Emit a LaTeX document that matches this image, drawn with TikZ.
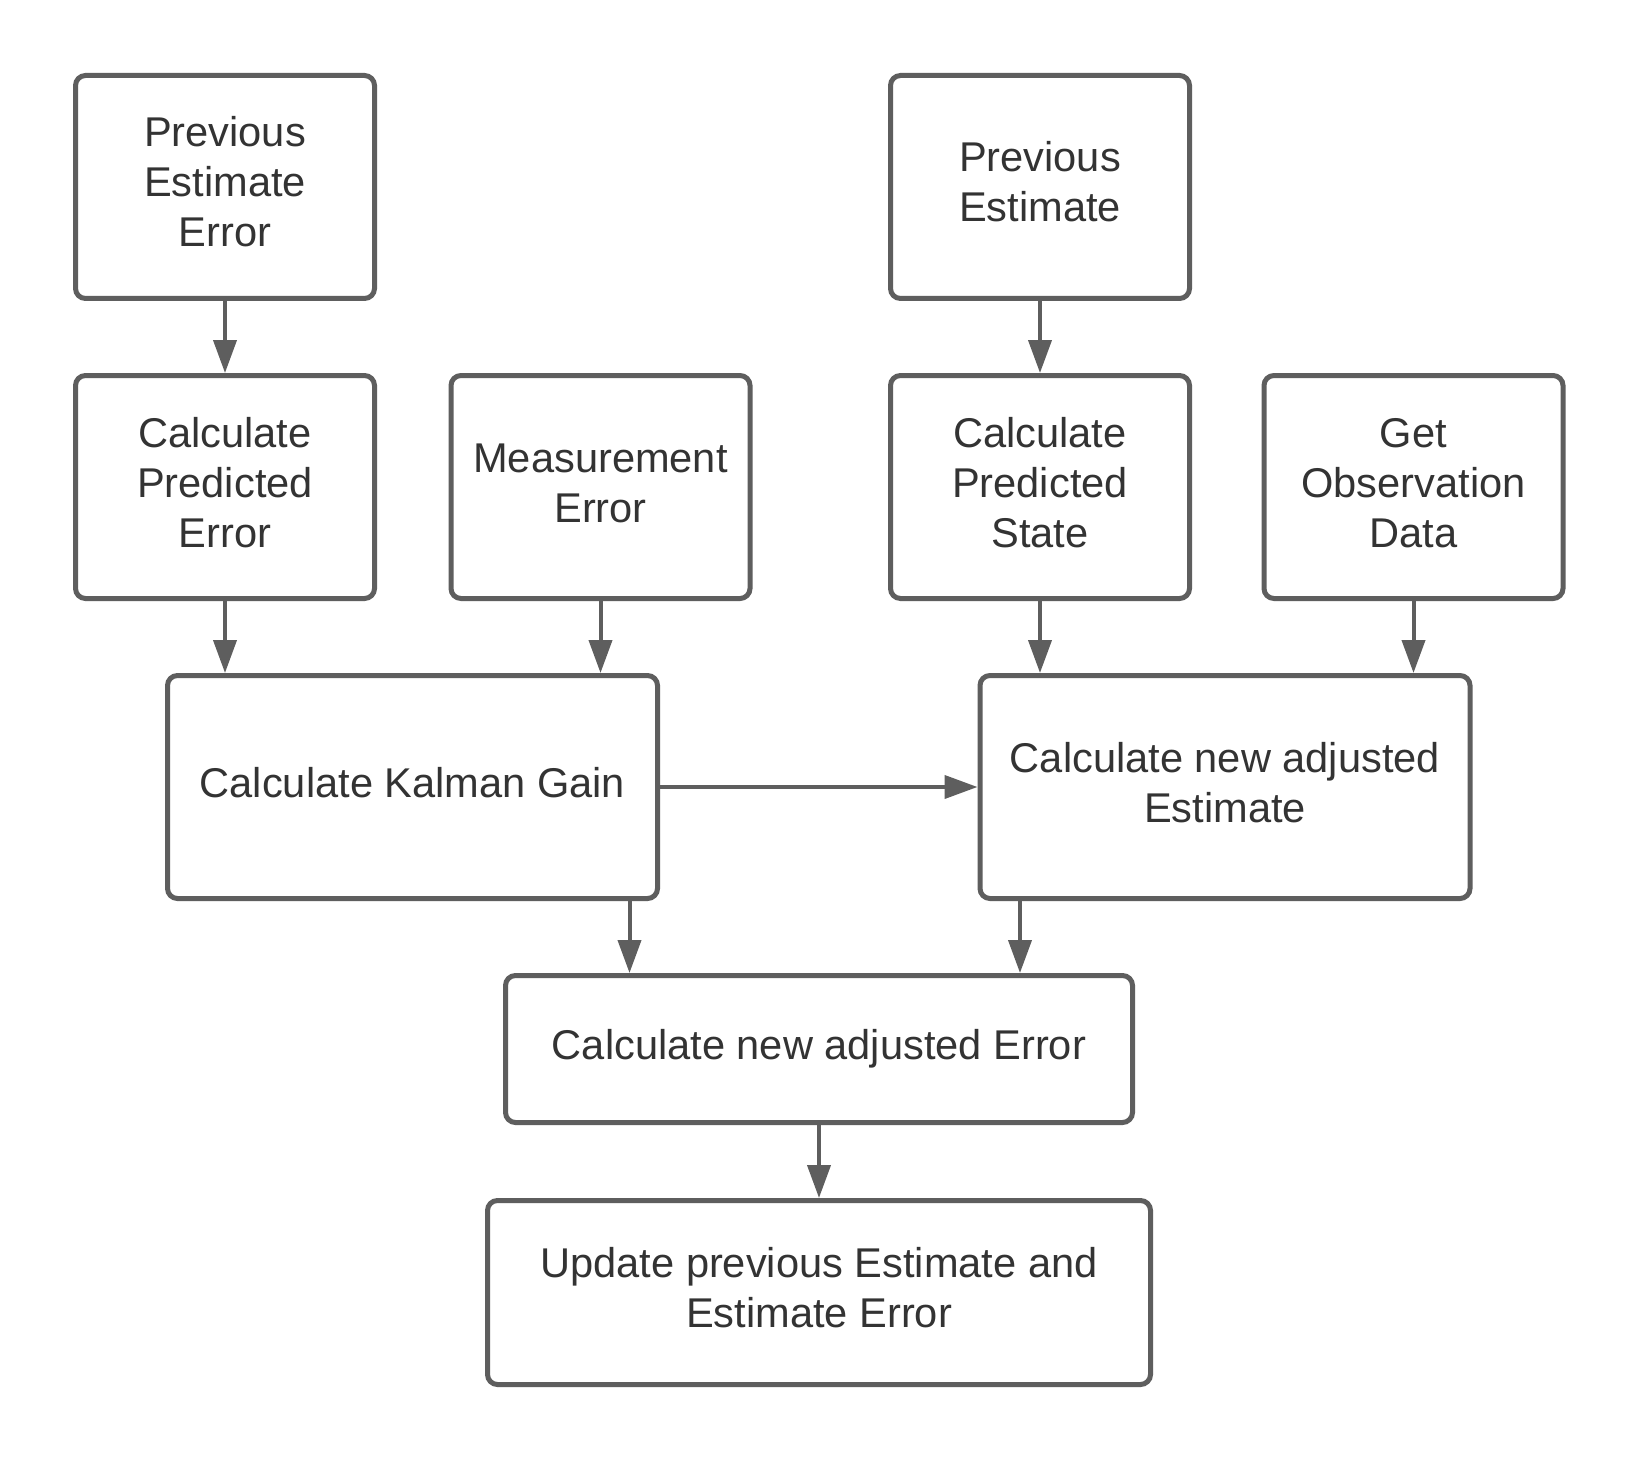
\documentclass[tikz,border=0pt]{standalone}
\usepackage{fontspec}
\setmainfont{Liberation Sans}
\usetikzlibrary{arrows.meta,calc}
\definecolor{linegray}{HTML}{5E5E5E}
\definecolor{textgray}{HTML}{333333}
\begin{document}
\begin{tikzpicture}[x=1pt,y=-1pt,
  box/.style={draw=linegray, line width=5pt, rounded corners=10pt, fill=white,
    text=textgray, align=center, inner sep=0pt,
    font=\fontsize{41.6}{50}\selectfont},
  smallbox/.style={box, minimum width=299pt, minimum height=223pt},
  widebox/.style={box, minimum width=490pt, minimum height=223pt},
  conn/.style={draw=linegray, line width=4pt, -{Triangle[length=33pt,width=23pt]}}]
\useasboundingbox (0,0) rectangle (1641,1463);
\fill[white] (0,0) rectangle (1641,1463);

\node[smallbox] (pee) at (225,187) {\strut Previous\\\strut Estimate\\\strut Error};
\node[smallbox] (pe)  at (1040,187) {\strut Previous\\\strut Estimate};
\node[smallbox] (cpe) at (225,487) {\strut Calculate\\\strut Predicted\\\strut Error};
\node[smallbox] (me)  at (600.5,487) {\strut Measurement\\\strut Error};
\node[smallbox] (cps) at (1040,487) {\strut Calculate\\\strut Predicted\\\strut State};
\node[smallbox] (god) at (1413.5,487) {\strut Get\\\strut Observation\\\strut Data};
\node[widebox] (kal) at (412.5,787) {\strut Calculate Kalman Gain};
\node[widebox] (ae)  at (1225,787) {\strut Calculate new adjusted\\\strut Estimate};
\node[box, minimum width=627pt, minimum height=147pt] (adj) at (819,1049) {\strut Calculate new adjusted Error};
\node[box, minimum width=663pt, minimum height=184pt] (upd) at (819,1292.5) {\strut Update previous Estimate and\\\strut Estimate Error};

\coordinate (kout) at ([xshift=-30.5pt]kal.south east);
\coordinate (aout) at ([xshift=42.5pt]ae.south west);

\draw[conn] (pee.south) -- (cpe.north);
\draw[conn] (pe.south) -- (cps.north);
\draw[conn] (cpe.south) -- (cpe.south |- kal.north);
\draw[conn] (me.south) -- (me.south |- kal.north);
\draw[conn] (cps.south) -- (cps.south |- ae.north);
\draw[conn] (god.south) -- (god.south |- ae.north);
\draw[conn] (kal.east) -- (ae.west);
\draw[conn] (kout) -- (kout |- adj.north);
\draw[conn] (aout) -- (aout |- adj.north);
\draw[conn] (adj.south) -- (upd.north);
\end{tikzpicture}
\end{document}
